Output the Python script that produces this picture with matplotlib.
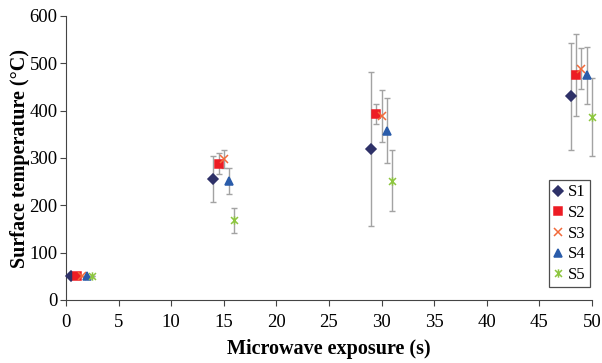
import matplotlib
matplotlib.use("Agg")
import matplotlib.pyplot as plt
from matplotlib.path import Path
import numpy as np

# exposure time (s) and mean surface temperature (°C) per sample, with std errors
series = ["S1", "S2", "S3", "S4", "S5"]
x_s1 = [0.5, 14.0, 29.0, 48.0]
x_s2 = [1.0, 14.5, 29.5, 48.5]
x_s3 = [1.5, 15.0, 30.0, 49.0]
x_s4 = [2.0, 15.5, 30.5, 49.5]
x_s5 = [2.5, 16.0, 31.0, 50.0]

t_s1 = [50, 256, 319, 430]
t_s2 = [50, 288, 393, 475]
t_s3 = [50, 297, 389, 489]
t_s4 = [50, 251, 358, 475]
t_s5 = [50, 168, 252, 387]

e_s1 = [0, 49, 163, 114]
e_s2 = [0, 22, 22, 87]
e_s3 = [0, 19, 55, 44]
e_s4 = [0, 28, 69, 60]
e_s5 = [0, 27, 64, 82]

# Excel-style star marker: an x with a vertical stroke
star = Path([(-1, -1), (1, 1), (-1, 1), (1, -1), (0, -1.2), (0, 1.2)],
            [Path.MOVETO, Path.LINETO, Path.MOVETO, Path.LINETO, Path.MOVETO, Path.LINETO])

styles = [
    dict(marker="D", color="#2e3168", ms=5.2),
    dict(marker="s", color="#ed1c24", ms=5.6),
    dict(marker="x", color="#f26a3a", ms=6),
    dict(marker="^", color="#2a5caa", ms=5.5),
    dict(marker=star, color="#8dc63f", ms=6),
]

plt.rcParams.update({
    "font.family": ["Liberation Serif", "DejaVu Serif"],
    "font.size": 11,
})

fig = plt.figure(figsize=(6.02, 3.63), dpi=100)
ax = fig.add_axes([66 / 602, 63 / 363, 526 / 602, 284 / 363])

data = zip(series,
           [x_s1, x_s2, x_s3, x_s4, x_s5],
           [t_s1, t_s2, t_s3, t_s4, t_s5],
           [e_s1, e_s2, e_s3, e_s4, e_s5],
           styles)
for name, xs, ts, es, st in data:
    _, caps, bars = ax.errorbar(xs, ts, yerr=es, fmt="none", ecolor="#a3a3a3",
                                elinewidth=1.0, capsize=2.2, capthick=1.0, zorder=2)
    for artist in list(caps) + list(bars):
        artist.set_clip_on(False)
    ax.plot(xs, ts, linestyle="none", marker=st["marker"], markersize=st["ms"],
            color=st["color"], markeredgecolor=st["color"], markeredgewidth=1.1,
            label=name, zorder=3, clip_on=False)

ax.set_xlim(0, 50)
ax.set_ylim(0, 600)
ax.set_xticks(np.arange(0, 51, 5))
ax.set_yticks(np.arange(0, 601, 100))
ax.tick_params(direction="out", length=4, width=0.8, colors="#444444",
               labelsize=13.5, labelcolor="black")
ax.tick_params(axis="x", pad=6)
ax.tick_params(axis="y", pad=2)
for side in ["top", "right"]:
    ax.spines[side].set_visible(False)
for side in ["left", "bottom"]:
    ax.spines[side].set_color("#444444")
    ax.spines[side].set_linewidth(0.8)

ax.set_xlabel("Microwave exposure (s)", fontsize=14.5, fontweight="bold", labelpad=6)
ax.set_ylabel("Surface temperature (°C)", fontsize=14.5, fontweight="bold", labelpad=0)

leg = ax.legend(loc="lower right", bbox_to_anchor=(0.996, 0.045), fontsize=12,
                frameon=True, fancybox=False, handlelength=0.6, handletextpad=0.3,
                borderpad=0.25, labelspacing=0.28, borderaxespad=0.0)
leg.get_frame().set_edgecolor("#222222")
leg.get_frame().set_linewidth(0.9)

fig.savefig("out.png", dpi=100)
